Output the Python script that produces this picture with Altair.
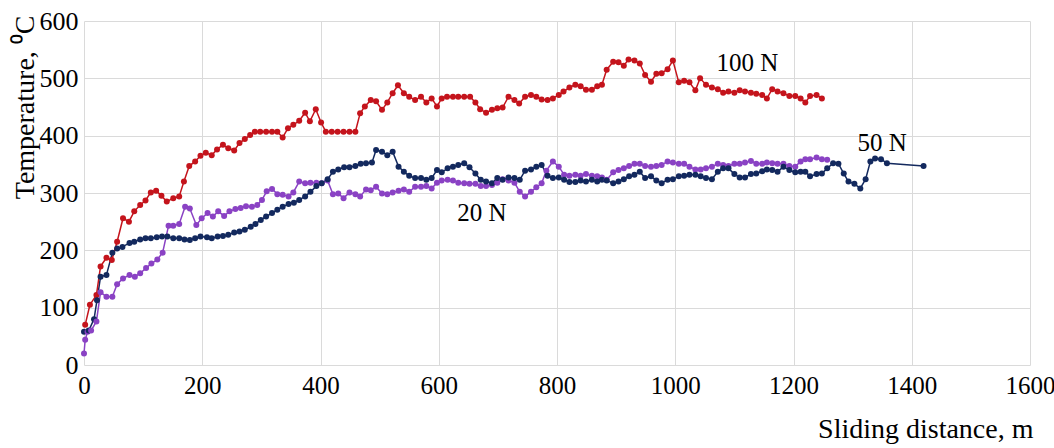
import altair as alt
import pandas as pd

# ---- 100 N series (distance m, temperature °C)
x_100 = [2, 10, 21, 28, 38, 47, 56, 66, 76, 85, 95, 104, 113, 122, 131, 140, 151, 161, 169, 178,
         188, 197, 206, 216, 225, 235, 244, 254, 263, 272, 281, 289, 298, 308, 318, 327, 336, 345, 354, 364,
         374, 382, 392, 401, 409, 419, 429, 439, 449, 459, 467, 475, 485, 494, 504, 513, 522, 531, 541, 550,
         560, 570, 579, 588, 597, 605, 614, 624, 633, 643, 653, 662, 670, 680, 690, 699, 708, 718, 728, 736,
         746, 756, 765, 774, 784, 793, 803, 811, 821, 831, 840, 849, 859, 868, 876, 884, 895, 904, 913, 921,
         931, 940, 949, 959, 968, 977, 987, 996, 1006, 1015, 1024, 1034, 1042, 1052, 1062, 1072, 1081, 1090, 1100, 1109,
         1118, 1128, 1137, 1147, 1155, 1164, 1173, 1183, 1193, 1203, 1212, 1220, 1228, 1239, 1248]
t_100 = [70, 105, 122, 172, 187, 183, 215, 256, 250, 268, 279, 287, 301, 304, 295, 285, 291, 294, 320, 347,
         355, 365, 370, 366, 376, 384, 378, 374, 387, 394, 401, 407, 407, 407, 407, 407, 397, 413, 419, 426,
         440, 425, 446, 423, 407, 407, 407, 407, 407, 407, 439, 451, 462, 460, 445, 458, 474, 488, 474, 468,
         462, 468, 458, 465, 451, 465, 468, 468, 468, 468, 468, 458, 446, 440, 445, 448, 449, 468, 462, 456,
         468, 471, 468, 463, 462, 465, 471, 477, 484, 489, 486, 480, 480, 486, 489, 515, 529, 528, 522, 533,
         531, 526, 506, 494, 508, 509, 516, 531, 493, 496, 493, 479, 500, 489, 484, 481, 475, 477, 475, 479,
         477, 475, 473, 471, 465, 481, 477, 474, 469, 469, 465, 458, 469, 471, 465]

# ---- 50 N series
x_50 = [0, 8, 17, 22, 28, 38, 48, 56, 65, 77, 85, 95, 104, 113, 123, 132, 141, 151, 161, 170,
        179, 188, 197, 208, 216, 226, 235, 244, 254, 263, 272, 282, 290, 299, 308, 318, 327, 336, 346, 355,
        364, 374, 383, 393, 402, 412, 421, 430, 440, 449, 459, 468, 477, 487, 494, 504, 513, 522, 532, 541,
        550, 560, 570, 579, 588, 597, 605, 615, 624, 633, 643, 652, 662, 671, 680, 690, 699, 708, 718, 728,
        737, 746, 756, 765, 774, 784, 793, 803, 812, 821, 831, 840, 849, 859, 868, 876, 884, 895, 904, 913,
        922, 931, 940, 949, 959, 968, 977, 987, 996, 1006, 1015, 1024, 1034, 1043, 1052, 1062, 1072, 1081, 1090, 1100,
        1109, 1118, 1128, 1137, 1147, 1155, 1164, 1173, 1183, 1193, 1203, 1212, 1220, 1228, 1239, 1248, 1257, 1267, 1276, 1285,
        1293, 1303, 1313, 1322, 1330, 1338, 1348, 1358, 1420]
t_50 = [58, 60, 80, 113, 154, 157, 196, 203, 206, 213, 215, 219, 221, 221, 223, 224, 224, 221, 221, 219,
        218, 221, 224, 223, 221, 224, 225, 227, 231, 233, 236, 241, 246, 253, 259, 265, 271, 276, 281, 283,
        288, 294, 302, 312, 317, 324, 337, 341, 345, 345, 347, 351, 352, 353, 375, 372, 366, 372, 346, 337,
        330, 326, 326, 323, 326, 340, 336, 343, 346, 349, 352, 345, 334, 323, 320, 317, 326, 323, 327, 326,
        323, 339, 341, 346, 349, 330, 326, 327, 323, 319, 319, 322, 320, 323, 320, 323, 322, 317, 320, 324,
        329, 332, 337, 326, 329, 322, 317, 323, 324, 329, 330, 332, 332, 329, 326, 324, 337, 343, 343, 333,
        327, 327, 333, 334, 338, 341, 340, 337, 346, 340, 336, 337, 337, 329, 333, 334, 343, 352, 351, 334,
        320, 316, 308, 324, 355, 360, 359, 352, 347]

# ---- 20 N series
x_20 = [0, 2, 6, 12, 21, 28, 38, 48, 56, 66, 77, 86, 95, 105, 114, 124, 133, 143, 151, 161,
        171, 179, 190, 199, 209, 218, 227, 237, 246, 256, 265, 274, 284, 293, 301, 309, 318, 327, 336, 346,
        354, 364, 374, 383, 393, 402, 412, 421, 430, 439, 449, 459, 467, 477, 485, 494, 504, 513, 522, 532,
        541, 550, 560, 570, 579, 588, 597, 605, 615, 624, 633, 643, 652, 662, 671, 680, 690, 699, 708, 718,
        728, 737, 746, 756, 765, 774, 782, 793, 803, 812, 821, 831, 840, 849, 859, 868, 876, 884, 895, 904,
        913, 922, 931, 940, 949, 959, 968, 977, 987, 996, 1006, 1015, 1024, 1034, 1043, 1052, 1062, 1072, 1081, 1090,
        1100, 1109, 1118, 1128, 1137, 1147, 1155, 1164, 1173, 1183, 1193, 1203, 1212, 1220, 1228, 1239, 1248, 1257]
t_20 = [20, 44, 58, 60, 76, 127, 119, 119, 141, 151, 157, 154, 160, 169, 177, 184, 196, 243, 243, 246,
        276, 273, 244, 256, 265, 259, 268, 260, 268, 272, 274, 277, 276, 279, 288, 303, 307, 298, 297, 294,
        301, 320, 317, 318, 318, 317, 322, 298, 299, 291, 301, 298, 294, 306, 305, 311, 299, 298, 301, 304,
        306, 302, 311, 311, 312, 308, 318, 322, 323, 322, 318, 317, 316, 316, 312, 312, 314, 318, 324, 322,
        318, 302, 294, 302, 310, 317, 339, 355, 346, 332, 330, 332, 330, 333, 330, 329, 327, 323, 336, 340,
        343, 347, 351, 351, 347, 346, 347, 349, 355, 353, 351, 351, 346, 341, 341, 343, 346, 351, 349, 347,
        351, 351, 353, 356, 351, 351, 353, 352, 351, 351, 347, 346, 355, 359, 359, 362, 359, 358]

series_names = ["20 N", "50 N", "100 N"]
series_colors = ["#8a42c4", "#13295e", "#c4141c"]

label_text = ["100 N", "50 N", "20 N"]
label_x = [1122, 1350, 673]
label_y = [527, 387, 265]

x_ticks = [0, 200, 400, 600, 800, 1000, 1200, 1400, 1600]
y_ticks = [0, 100, 200, 300, 400, 500, 600]

rows = []
for name, xs, ts in [("20 N", x_20, t_20), ("50 N", x_50, t_50), ("100 N", x_100, t_100)]:
    for xv, tv in zip(xs, ts):
        rows.append({"series": name, "distance": xv, "temp": tv})
df = pd.DataFrame(rows)
labels_df = pd.DataFrame({"text": label_text, "distance": label_x, "temp": label_y})

FONT = "Liberation Serif"
xscale = alt.Scale(domain=[0, 1600], nice=False, zero=False)
yscale = alt.Scale(domain=[0, 600], nice=False)

x_axis = alt.Axis(values=x_ticks, format="d", title="Sliding distance, m", labelFlush=False,
                  labelFont=FONT, labelFontSize=25, labelColor="black",
                  labelPadding=8, titleX=949, titleY=72, titleAlign="right",
                  titleBaseline="alphabetic", titleAnchor="end")
y_axis = alt.Axis(values=y_ticks, format="d", title="Temperature, ⁰C", labelPadding=6,
                  labelFont=FONT, labelFontSize=26, labelColor="black",
                  titleAngle=270, titleX=-51, titleY=-6, titleAlign="right",
                  titleBaseline="alphabetic")

color = alt.Color("series:N", scale=alt.Scale(domain=series_names, range=series_colors), legend=None)

base = alt.Chart(df).encode(
    x=alt.X("distance:Q", scale=xscale, axis=x_axis),
    y=alt.Y("temp:Q", scale=yscale, axis=y_axis),
    color=color,
    order=alt.Order("distance:Q"),
)
lines = base.mark_line(strokeWidth=1.5)
points = base.mark_circle(size=36, opacity=1)

texts = alt.Chart(labels_df).mark_text(font=FONT, fontSize=25, color="black",
                                       align="center", baseline="middle").encode(
    x=alt.X("distance:Q", scale=xscale),
    y=alt.Y("temp:Q", scale=yscale),
    text="text:N",
)

chart = alt.layer(lines, points, texts).properties(
    width=946, height=344,
    autosize=alt.AutoSizeParams(type="none"),
    padding={"left": 84, "top": 21, "right": 24, "bottom": 83},
    background="white",
).configure_axis(
    labelFont=FONT, labelFontSize=25, labelColor="black",
    titleFont=FONT, titleFontSize=28, titleFontWeight="normal", titleColor="black",
    ticks=False, domain=False, grid=True, gridColor="#dadada", gridWidth=1,
).configure_view(strokeWidth=0)

chart.save("out.html", embed_options={"renderer": "svg", "actions": False})
